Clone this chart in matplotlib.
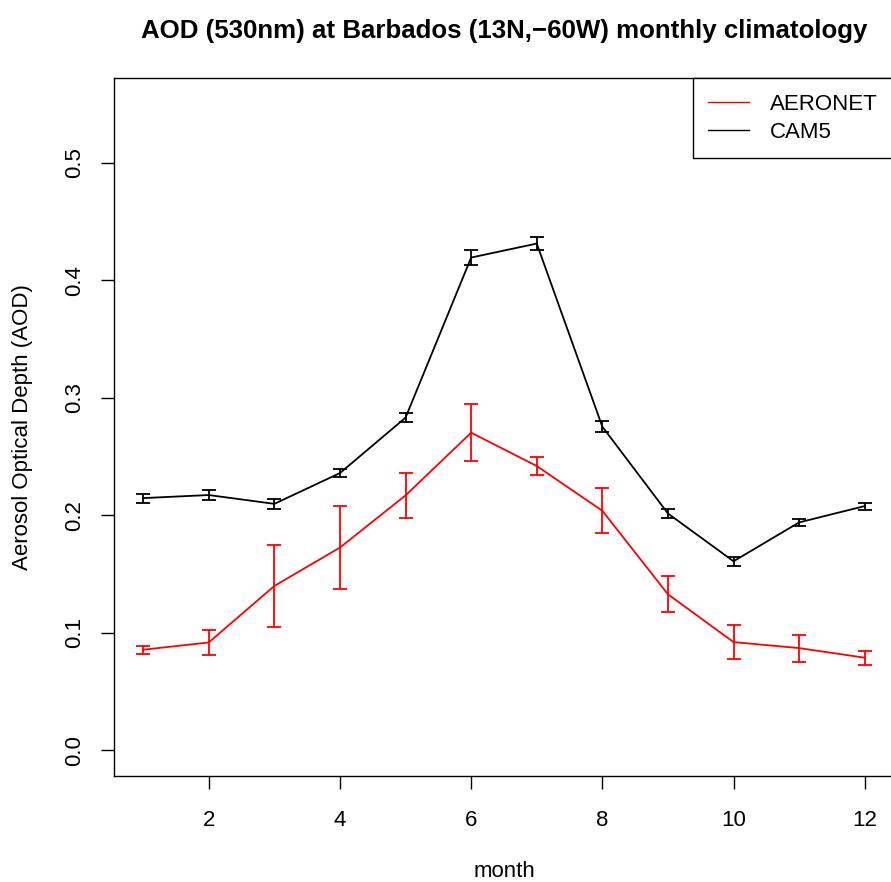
import matplotlib
matplotlib.use("Agg")
import matplotlib.pyplot as plt
import numpy as np
from matplotlib.lines import Line2D

plt.rcParams['font.family'] = ['Liberation Sans', 'DejaVu Sans']

months = np.arange(1, 13)

aeronet = [0.0855, 0.0917, 0.1398, 0.1725, 0.2169, 0.2703,
           0.2419, 0.2038, 0.1327, 0.0920, 0.0869, 0.0787]
aeronet_err = [0.0033, 0.0105, 0.0350, 0.0355, 0.0193, 0.0245,
               0.0080, 0.0190, 0.0152, 0.0148, 0.0115, 0.0060]

cam5 = [0.2146, 0.2172, 0.2097, 0.2359, 0.2831, 0.4194,
        0.4313, 0.2754, 0.2015, 0.1608, 0.1939, 0.2078]
cam5_err = [0.0038, 0.0044, 0.0040, 0.0035, 0.0041, 0.0067,
            0.0057, 0.0048, 0.0038, 0.0040, 0.0030, 0.0030]

fig = plt.figure(figsize=(8.91, 8.82), dpi=100)
ax = fig.add_axes([0.1283, 0.1202, 0.8746, 0.7910])

ax.errorbar(months, aeronet, yerr=aeronet_err, color='red', lw=1.3,
            elinewidth=1.3, capsize=5, capthick=1.3, label='AERONET')
ax.errorbar(months, cam5, yerr=cam5_err, color='black', lw=1.3,
            elinewidth=1.3, capsize=5, capthick=1.3, label='CAM5')

ax.set_xlim(0.56, 12.44)
ax.set_ylim(-0.022, 0.572)
ax.set_xticks([2, 4, 6, 8, 10, 12])
ax.set_yticks([0.0, 0.1, 0.2, 0.3, 0.4, 0.5])
ax.set_yticklabels(['0.0', '0.1', '0.2', '0.3', '0.4', '0.5'], rotation=90, va='center')
ax.tick_params(direction='out', length=9.7, width=1, labelsize=16)
ax.tick_params(axis='x', pad=14.5)
ax.tick_params(axis='y', pad=11.5)
for s in ax.spines.values():
    s.set_linewidth(1)

ax.set_xlabel('month', fontsize=16, labelpad=22)
ax.set_ylabel('Aerosol Optical Depth (AOD)', fontsize=16, labelpad=22)
ax.set_title('AOD (530nm) at Barbados (13N,\u221260W) monthly climatology',
             fontsize=18.6, fontweight='bold', pad=29)

# legend handles without error caps
handles = [Line2D([], [], color='red', lw=1), Line2D([], [], color='black', lw=1)]
leg = ax.legend(handles, ['AERONET', 'CAM5'], loc='upper right',
                bbox_to_anchor=(1, 1), borderaxespad=0, fontsize=16,
                fancybox=False, framealpha=1, edgecolor='black',
                handlelength=1.85, labelspacing=0.3, borderpad=0.7,
                handletextpad=0.95)
leg.get_frame().set_linewidth(1)

fig.savefig('out.png', dpi=100)
